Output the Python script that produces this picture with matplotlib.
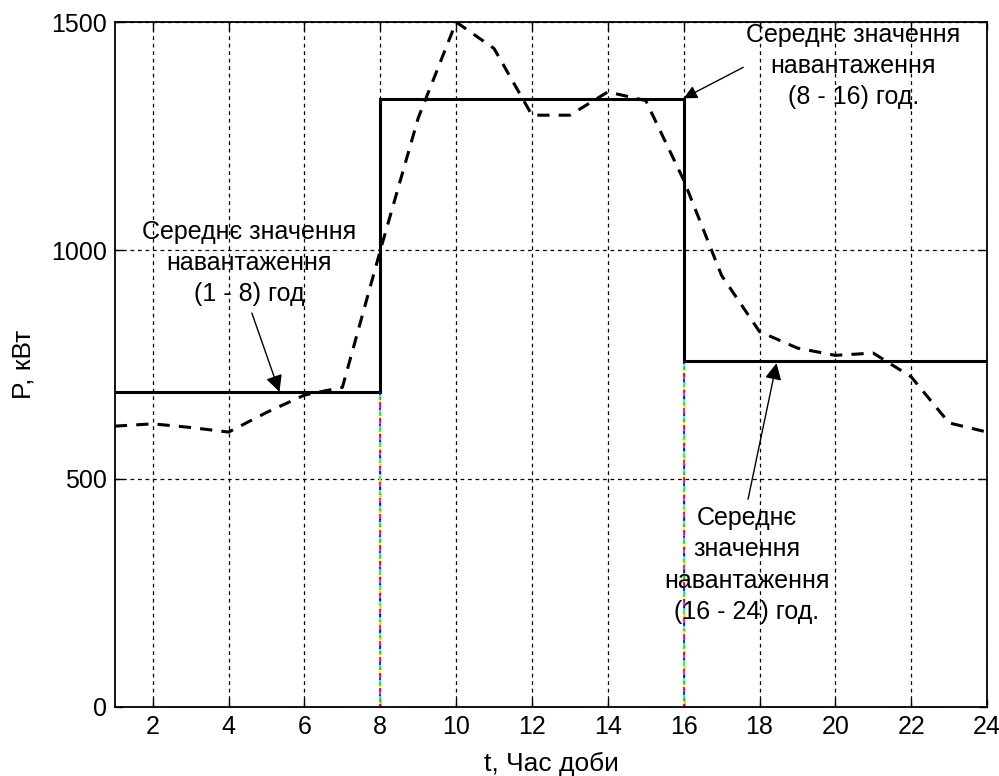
import matplotlib
matplotlib.use('Agg')
import matplotlib.pyplot as plt
import numpy as np

plt.rcParams['font.family'] = ['Liberation Sans', 'DejaVu Sans']

# Hourly load, kW
hours = list(range(1, 25))
load = [615, 620, 612, 602, 645, 683, 700, 1000, 1290, 1500, 1442, 1296,
        1296, 1347, 1328, 1154, 945, 822, 786, 770, 775, 723, 622, 602]

# Average load per period
period_edges = [1, 8, 16, 24]
period_avg = [690, 1331, 757]

fig = plt.figure(figsize=(9.99, 7.76), dpi=100)
ax = fig.add_axes([0.115, 0.089, 0.873, 0.8826])

ax.plot(hours, load, color='black', lw=2.2, dashes=(4, 3))

# step line of averages
sx, sy = [], []
for i, v in enumerate(period_avg):
    sx += [period_edges[i], period_edges[i + 1]]
    sy += [v, v]
ax.plot(sx, sy, color='black', lw=2.2, solid_joinstyle='miter')

# coloured drop lines at period boundaries
rainbow = ['#ff0000', '#ffff00', '#00ff00', '#00ffff', '#0000ff', '#ff00ff']
for i, xb in enumerate(period_edges[1:-1]):
    top = min(period_avg[i], period_avg[i + 1])
    ys = np.linspace(0, top, 120)
    for k in range(len(ys) - 1):
        ax.plot([xb, xb], [ys[k], ys[k + 1]], color=rainbow[k % len(rainbow)],
                lw=1.2, solid_capstyle='butt')

ax.set_xlim(1, 24)
ax.set_ylim(0, 1500)
ax.set_xticks(range(2, 25, 2))
ax.set_yticks([0, 500, 1000, 1500])
ax.grid(True, color='black', lw=0.9, dashes=(3, 3))
ax.tick_params(direction='in', length=6, width=1, top=True, right=True,
               labelsize=18, pad=6)
for s in ax.spines.values():
    s.set_linewidth(1.3)

ax.set_xlabel('t, Час доби', fontsize=19, labelpad=9)
ax.set_ylabel('P, кВт', fontsize=19, labelpad=11)

note = dict(ha='center', va='center', fontsize=18, linespacing=1.38)
ax.annotate('Середнє значення\nнавантаження\n(1 - 8) год', xy=(5.34, 690),
            xytext=(4.55, 972), **note,
            arrowprops=dict(arrowstyle='-|>', color='black', lw=1,
                            mutation_scale=25, shrinkA=3, shrinkB=0,
                            relpos=(0.5, 0.0)))
ax.annotate('Середнє значення\nнавантаження\n(8 - 16) год.', xy=(16, 1333),
            xytext=(20.47, 1404), **note,
            arrowprops=dict(arrowstyle='-|>', color='black', lw=1,
                            mutation_scale=20, shrinkA=0, shrinkB=0,
                            relpos=(0.0, 0.5)))
ax.annotate('Середнє\nзначення\nнавантаження\n(16 - 24) год.', xy=(18.45, 753),
            xytext=(17.66, 311), **note,
            arrowprops=dict(arrowstyle='-|>', color='black', lw=1,
                            mutation_scale=25, shrinkA=3, shrinkB=0,
                            relpos=(0.5, 1.0)))

fig.savefig('out.png', dpi=100)
